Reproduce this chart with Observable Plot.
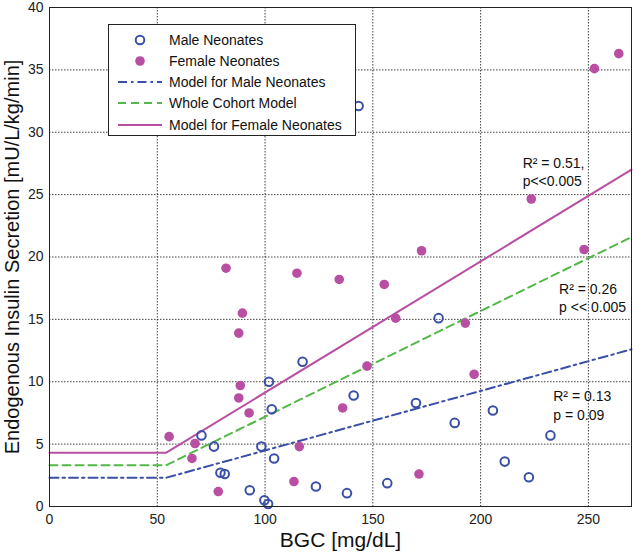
<!DOCTYPE html>
<html>
<head>
<meta charset="utf-8">
<script src="https://cdn.jsdelivr.net/npm/d3@7"></script>
<script src="https://cdn.jsdelivr.net/npm/@observablehq/plot@0.6"></script>
<style>
  html, body { margin: 0; padding: 0; background: #fff; }
  #wrap { position: relative; width: 633px; height: 554px; font-family: "Liberation Sans", Arial, sans-serif; }
  #legend { position: absolute; left: 108px; top: 24px; width: 246px; height: 110px; background: #fff; border: 1px solid #222; box-sizing: content-box; }
  #legend .row { position: absolute; left: 0; height: 20px; display: flex; align-items: center; font-size: 14px; color: #111; }
  #legend svg { display: block; }
</style>
</head>
<body>
<div id="wrap"></div>
<script>
// ---- Data ----
const maleBGC = [70.5, 76.3, 79.3, 81.3, 92.9, 98.3, 99.7, 101.4, 101.8, 103.1, 104.2, 117.4, 123.6, 138.0, 141.1, 143.4, 156.7, 170.0, 180.5, 188.0, 205.7, 211.2, 222.4, 232.4];
const maleEIS = [5.7, 4.8, 2.7, 2.6, 1.3, 4.8, 0.5, 0.2, 10.0, 7.8, 3.85, 11.6, 1.6, 1.07, 8.9, 32.1, 1.87, 8.3, 15.1, 6.7, 7.7, 3.6, 2.35, 5.7];

const femaleBGC = [55.5, 66.1, 67.5, 78.3, 81.9, 87.8, 87.8, 88.5, 89.5, 92.6, 113.4, 114.8, 115.9, 134.4, 136.0, 147.3, 155.3, 160.6, 171.4, 172.6, 192.9, 197.0, 223.5, 248.0, 252.8, 264.1];
const femaleEIS = [5.6, 3.85, 5.05, 1.2, 19.1, 8.7, 13.9, 9.7, 15.5, 7.5, 2.0, 18.7, 4.8, 18.2, 7.9, 11.25, 17.8, 15.1, 2.6, 20.5, 14.7, 10.6, 24.65, 20.6, 35.1, 36.3];

// piecewise models: breakpoints and fitted values
const modelBGC = [0, 54, 270];
const modelMale = [2.3, 2.3, 12.6];
const modelWhole = [3.3, 3.3, 21.6];
const modelFemale = [4.3, 4.3, 27.0];

const xTicks = [0, 50, 100, 150, 200, 250];
const yTicks = [0, 5, 10, 15, 20, 25, 30, 35, 40];
const gridX = [50, 100, 150, 200, 250];
const gridY = [5, 10, 15, 20, 25, 30, 35];

const annoText = ["R\u00B2 = 0.51,\np<<0.005", "R\u00B2 = 0.26\np << 0.005", "R\u00B2 = 0.13\np = 0.09"];
const annoX = [219.5, 236.4, 233.7];
const annoY = [26.85, 16.75, 8.17];

const legendLabels = ["Male Neonates", "Female Neonates", "Model for Male Neonates", "Whole Cohort Model", "Model for Female Neonates"];

// colours
const cBlue = "#3a50a6";
const cPink = "#b94fa3";
const cGreen = "#52b847";

// ---- Build tables ----
const males = maleBGC.map((x, i) => ({x, y: maleEIS[i]}));
const females = femaleBGC.map((x, i) => ({x, y: femaleEIS[i]}));
const mMale = modelBGC.map((x, i) => ({x, y: modelMale[i]}));
const mWhole = modelBGC.map((x, i) => ({x, y: modelWhole[i]}));
const mFemale = modelBGC.map((x, i) => ({x, y: modelFemale[i]}));
const annos = annoText.map((t, i) => ({t, x: annoX[i], y: annoY[i]}));

const chart = Plot.plot({
  width: 633,
  height: 554,
  marginLeft: 49,
  marginRight: 2,
  marginTop: 7,
  marginBottom: 48,
  style: {fontFamily: "'Liberation Sans', Arial, sans-serif", fontSize: "14px", color: "#222", background: "#fff"},
  x: {domain: [0, 270]},
  y: {domain: [0, 40]},
  marks: [
    Plot.ruleX(gridX, {stroke: "#222", strokeWidth: 1, strokeDasharray: "1.5,1.5", strokeOpacity: 0.85}),
    Plot.ruleY(gridY, {stroke: "#222", strokeWidth: 1, strokeDasharray: "1.5,1.5", strokeOpacity: 0.85}),
    Plot.axisX({ticks: xTicks, tickSize: 0, tickPadding: 8, fontSize: 14, label: null}),
    Plot.axisY({ticks: yTicks, tickSize: 0, tickPadding: 6, fontSize: 14, label: null}),
    Plot.text(["BGC [mg/dL]"], {frameAnchor: "bottom", dy: 40, fontSize: 21, fill: "#111"}),
    Plot.text(["Endogenous Insulin Secretion [mU/L/kg/min]"], {frameAnchor: "left", dx: -37, rotate: -90, textAnchor: "middle", lineAnchor: "middle", fontSize: 20, fill: "#111"}),
    Plot.line(mMale, {x: "x", y: "y", stroke: cBlue, strokeWidth: 2, strokeDasharray: "9,4,2.5,4"}),
    Plot.line(mWhole, {x: "x", y: "y", stroke: cGreen, strokeWidth: 2, strokeDasharray: "8,5"}),
    Plot.line(mFemale, {x: "x", y: "y", stroke: cPink, strokeWidth: 2}),
    Plot.dot(males, {x: "x", y: "y", r: 4.3, stroke: cBlue, strokeWidth: 2, fill: "none"}),
    Plot.dot(females, {x: "x", y: "y", r: 4.8, fill: cPink, stroke: "none"}),
    Plot.text(annos, {x: "x", y: "y", text: "t", textAnchor: "start", lineAnchor: "middle", lineHeight: 1.3, fontSize: 14, fill: "#111"}),
    Plot.frame({stroke: "#222", strokeWidth: 1})
  ]
});

const wrap = document.getElementById("wrap");
wrap.appendChild(chart);

// ---- Legend overlay ----
const legend = document.createElement("div");
legend.id = "legend";
const rowTops = [5, 26, 47, 68, 90];
const sym = [
  `<circle cx="22" cy="10" r="4.3" fill="none" stroke="${cBlue}" stroke-width="2"/>`,
  `<circle cx="22" cy="10" r="4.8" fill="${cPink}"/>`,
  `<line x1="0" y1="10" x2="44" y2="10" stroke="${cBlue}" stroke-width="2" stroke-dasharray="9,4,2.5,4"/>`,
  `<line x1="0" y1="10" x2="44" y2="10" stroke="${cGreen}" stroke-width="2" stroke-dasharray="8,5"/>`,
  `<line x1="0" y1="10" x2="44" y2="10" stroke="${cPink}" stroke-width="2"/>`
];
legendLabels.forEach((lab, i) => {
  const row = document.createElement("div");
  row.className = "row";
  row.style.top = rowTops[i] + "px";
  row.innerHTML = `<svg width="54" height="20" style="margin-left:9px;margin-right:-3px">${sym[i]}</svg><span>${lab}</span>`;
  legend.appendChild(row);
});
wrap.appendChild(legend);
</script>
</body>
</html>
